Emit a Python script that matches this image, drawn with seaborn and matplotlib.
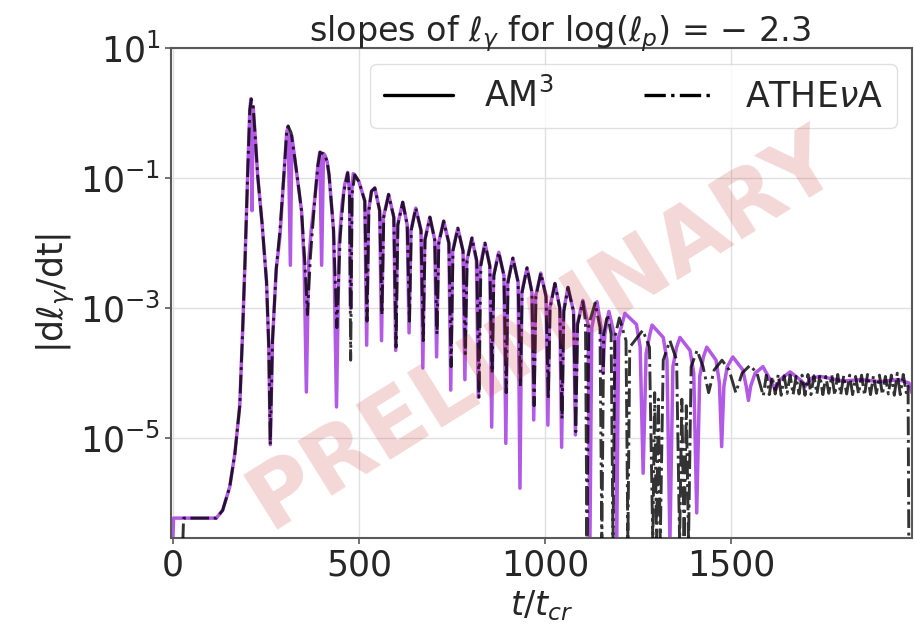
import numpy as np
import pandas as pd
import seaborn as sns
import matplotlib.pyplot as plt
from matplotlib.lines import Line2D
from matplotlib.ticker import NullLocator

# ---------------- data (y given as log10 values) ----------------
am3_t = [0, 2, 117, 134, 153, 167, 180, 188, 194, 202, 207, 210, 213, 216, 222, 228, 240, 252, 258, 262,
         268, 278, 288, 301, 306, 310, 316, 320, 328, 335, 346, 353, 359,
         365, 372, 382, 390, 395, 400, 405, 409, 415, 420, 432, 440,
         447, 455, 462, 470, 475, 478, 481, 485, 489, 500, 516, 521, 526, 534,
         543, 556, 561, 566, 580, 594, 599, 604, 618, 630, 635, 640, 653, 667, 672, 677,
         691, 704, 709, 714, 728, 742, 747, 752, 766, 780, 785, 790, 804, 816, 821, 826,
         839, 852, 857, 862, 876, 890, 895, 900, 914, 928, 933, 938, 952, 965, 970, 975,
         989, 1003, 1008, 1013, 1027, 1040, 1045, 1050, 1062, 1077, 1082, 1087,
         1102, 1116, 1121, 1126, 1140, 1151, 1156, 1161, 1172, 1188, 1193, 1198,
         1215, 1246, 1256, 1264, 1272, 1282, 1288, 1318, 1328, 1336, 1344, 1354, 1363, 1390, 1400, 1408, 1416, 1426,
         1435, 1460, 1469, 1475, 1481, 1490, 1505, 1532, 1541, 1547, 1553, 1565, 1586, 1610, 1620, 1632, 1659, 1690,
         1700, 1715, 1740, 1800, 1850, 1900, 1950, 1978, 1986]
am3_log = [-6.6, -6.23, -6.23, -6.11, -5.75, -5.23, -4.5, -3.3, -2.3, -0.8, 0.05, 0.22, -1.5, 0.1, -0.4, -0.95, -1.7, -2.6, -3.6, -5.1,
           -3.5, -2.4, -1.9, -0.75, -0.3, -0.2, -2.34, -0.35, -0.7, -1.0, -1.5, -2.3, -4.29,
           -2.3, -1.8, -1.3, -0.8, -0.6, -2.34, -0.62, -0.65, -0.75, -0.95, -1.8, -4.52,
           -2.0, -1.4, -1.1, -0.91, -1.2, -3.0, -1.2, -0.93, -0.95, -1.05, -1.35, -3.57, -1.5, -1.2,
           -1.15, -1.5, -3.5, -1.6, -1.25, -1.6, -3.65, -1.72, -1.37, -1.72, -3.38, -1.8, -1.46, -1.8, -3.92, -1.95,
           -1.6, -1.95, -3.75, -2.0, -1.66, -2.0, -4.26, -2.12, -1.77, -2.12, -4.1, -2.27, -1.92, -2.27, -4.37, -2.35,
           -2.0, -2.35, -4.83, -2.5, -2.14, -2.5, -5.08, -2.6, -2.23, -2.6, -5.77, -2.75, -2.38, -2.75, -4.72, -2.82,
           -2.46, -2.82, -4.8, -3.0, -2.62, -3.0, -5.14, -3.05, -2.68, -3.05, -4.95, -3.25,
           -2.88, -3.25, -6.6, -3.3, -2.9, -3.3, -4.0, -3.4, -3.05, -3.45, -6.6, -3.45,
           -3.08, -3.25, -3.6, -5.54, -3.7, -3.4, -3.26, -3.45, -3.8, -6.6, -3.9, -3.6, -3.45, -3.65, -4.0, -6.15, -4.05, -3.75,
           -3.6, -3.8, -4.15, -5.13, -4.2, -3.9, -3.75, -3.95, -4.2, -4.42, -4.2, -4.0, -3.9, -4.15, -4.25, -4.1, -3.98, -4.12,
           -4.2, -4.08, -4.05, -4.12, -4.1, -4.13, -4.1, -4.15, -4.3]

athena_t = [27, 29, 117, 134, 153, 167, 180, 188, 194, 202, 207, 211, 216, 222, 228, 240, 252, 258, 262,
            268, 278, 288, 301, 306, 310, 318, 328, 335, 346, 355, 362,
            370, 382, 390, 396, 403, 409, 415, 420, 432, 441,
            450, 460, 470, 475, 478, 482, 489, 500, 516, 522, 527, 534,
            543, 556, 562, 567, 580, 594, 600, 605, 618, 630, 636, 641, 653, 667, 673, 678,
            691, 704, 710, 715, 728, 742, 748, 753, 766, 780, 786, 791, 804, 817, 823, 828,
            839, 852, 858, 863, 876, 890, 896, 901, 914, 928, 934, 939, 952, 965, 971, 976,
            989, 1003, 1009, 1014, 1027, 1040, 1046, 1051, 1062, 1077, 1083, 1088,
            1102, 1109, 1113, 1118, 1135, 1148, 1153, 1158, 1168, 1178, 1183, 1188, 1200, 1218, 1223, 1228,
            1263, 1281, 1290, 1295, 1300, 1305, 1310, 1318, 1336, 1354, 1362, 1368, 1374, 1380, 1386, 1393,
            1409, 1425, 1440, 1455, 1476, 1495, 1513, 1530, 1551, 1570, 1587,
            1595, 1603, 1611, 1619, 1627, 1635, 1643, 1651, 1659, 1667, 1675, 1683, 1691, 1699, 1707, 1715,
            1723, 1731, 1739, 1747, 1755, 1763, 1771, 1779, 1787, 1795, 1803, 1811, 1819, 1827, 1835, 1843,
            1851, 1859, 1867, 1875, 1883, 1891, 1899, 1907, 1915, 1923, 1931, 1939, 1947, 1955, 1963, 1971,
            1976, 1978]
athena_log = [-6.6, -6.23, -6.23, -6.11, -5.75, -5.23, -4.5, -3.3, -2.3, -0.8, 0.05, 0.22, 0.1, -0.4, -0.95, -1.7, -2.6, -3.6, -5.1,
              -3.5, -2.4, -1.8, -0.75, -0.3, -0.2, -0.3, -0.7, -1.0, -1.5, -2.3, -3.1,
              -2.2, -1.3, -0.8, -0.6, -0.62, -0.65, -0.75, -0.95, -1.8, -3.3,
              -1.9, -1.2, -0.92, -1.25, -3.8, -1.25, -0.95, -1.05, -1.35, -3.2, -1.5, -1.2,
              -1.15, -1.5, -3.1, -1.6, -1.25, -1.6, -3.6, -1.72, -1.37, -1.72, -3.2, -1.8, -1.46, -1.8, -3.5, -1.95,
              -1.6, -1.95, -3.4, -2.0, -1.66, -2.0, -3.9, -2.12, -1.77, -2.12, -3.7, -2.27, -1.92, -2.27, -4.37, -2.35,
              -2.0, -2.35, -4.0, -2.5, -2.14, -2.5, -4.3, -2.6, -2.23, -2.6, -4.2, -2.75, -2.38, -2.75, -4.5, -2.82,
              -2.46, -2.82, -4.4, -3.0, -2.62, -3.0, -4.7, -3.05, -2.68, -3.05, -4.9, -3.25,
              -2.9, -3.2, -6.6, -3.25, -2.92, -3.3, -6.6, -3.4, -3.1, -3.4, -6.6, -3.45, -3.15, -3.5, -6.6, -3.6,
              -3.34, -3.6, -6.6, -4.3, -6.6, -4.4, -6.6, -3.8, -3.5, -3.8, -6.6, -4.4, -6.6, -4.5, -6.6, -3.9,
              -3.65, -3.9, -4.3, -3.95, -3.8, -3.95, -4.3, -4.0, -3.88, -4.0, -4.35,
              -4.03, -4.33, -4.05, -4.32, -4.02, -4.34, -4.04, -4.31, -4.03, -4.33, -4.05, -4.32, -4.03, -4.34, -4.02, -4.33,
              -4.04, -4.32, -4.03, -4.33, -4.05, -4.31, -4.03, -4.34, -4.02, -4.33, -4.04, -4.32, -4.03, -4.33, -4.05, -4.32,
              -4.03, -4.34, -4.02, -4.33, -4.04, -4.31, -4.03, -4.33, -4.05, -4.32, -4.03, -4.34, -4.0, -4.33, -4.02, -4.3,
              -4.2, -6.6]

series_labels = ["AM$^3$", r"ATHE$\nu$A"]
x_ticks = [0, 500, 1000, 1500]
y_ticks = [1e1, 1e-1, 1e-3, 1e-5]

# ---------------- figure ----------------
sns.set_theme(style="whitegrid")
plt.rcParams['font.family'] = ['DejaVu Sans']
plt.rcParams['mathtext.fontset'] = 'dejavusans'

fig = plt.figure(figsize=(9.14, 6.34), dpi=100)
ax = fig.add_axes([0.187, 0.151, 0.811, 0.773])

df_am = pd.DataFrame({"t": am3_t, "y": 10.0 ** np.array(am3_log)})
df_at = pd.DataFrame({"t": athena_t, "y": 10.0 ** np.array(athena_log)})

purple = "#b259e6"
sns.lineplot(data=df_am, x="t", y="y", ax=ax, color=purple, lw=2.5,
             estimator=None, sort=False, zorder=2)
sns.lineplot(data=df_at, x="t", y="y", ax=ax, color="black", lw=2.1,
             linestyle="-.", estimator=None, sort=False, zorder=3, alpha=0.8)

ax.set_yscale("log")
ax.set_xlim(-5, 1987)
ax.set_ylim(10 ** -6.54, 10)
ax.set_xticks(x_ticks)
ax.set_yticks(y_ticks)
ax.yaxis.set_minor_locator(NullLocator())

ax.grid(True, color="0.88", lw=1.0)
for sp in ax.spines.values():
    sp.set_color("0.35")
    sp.set_linewidth(1.5)
ax.tick_params(axis="both", which="major", labelsize=25, length=4, width=1.2,
               color="0.35", direction="out", left=True, bottom=True, labelcolor="0.15")

ax.set_xlabel(r"$t/t_{cr}$", fontsize=24, color="0.15", labelpad=4)
ax.set_ylabel(r"$|\mathrm{d}\ell_\gamma/\mathrm{dt}|$", fontsize=25, color="0.15", labelpad=2)
ax.set_title(r"slopes of $\ell_\gamma$ for $\log(\ell_p)$ = − 2.3", fontsize=24,
             color="0.15", pad=5, x=0.525)

handles = [Line2D([], [], color="black", lw=2.4, linestyle="-"),
           Line2D([], [], color="black", lw=2.4, linestyle="-.")]
leg = ax.legend(handles, series_labels, loc="upper right", ncol=2, fontsize=25,
                frameon=True, handlelength=2.0, columnspacing=2.6, handletextpad=0.9,
                borderaxespad=0.45, fancybox=True)
leg.get_frame().set_edgecolor("0.85")
leg.get_frame().set_linewidth(1.0)
for txt in leg.get_texts():
    txt.set_color("0.15")

fig.text(0.595, 0.48, "PRELIMINARY", rotation=32, fontsize=64, fontweight="bold",
         color="#c83c3c", alpha=0.2, ha="center", va="center", zorder=10)

fig.savefig("out.png", dpi=100)
